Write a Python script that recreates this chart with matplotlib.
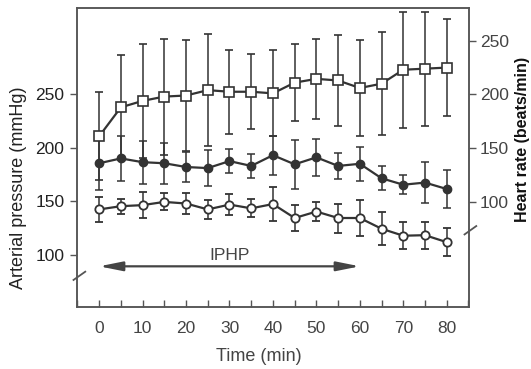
import matplotlib
matplotlib.use("Agg")
import matplotlib.pyplot as plt
from matplotlib.ticker import MultipleLocator

plt.rcParams["font.family"] = ["Liberation Sans", "DejaVu Sans"]
plt.rcParams["font.size"] = 12.5

# ---------------------------------------------------------
# Data
# ---------------------------------------------------------

time_min = [0, 5, 10, 15, 20, 25, 30, 35, 40, 45, 50, 55, 60, 65, 70, 75, 80]

heart_rate = [161, 188, 194, 198, 199, 204, 202.5, 202.5, 201, 211, 214.5, 213,
              206, 210, 223, 224, 225]
heart_rate_err = [41, 49, 53, 54, 52, 52, 39, 35, 40, 36, 37, 42, 45, 48, 54, 53, 45]

pressure_high = [185.5, 190, 186.5, 185.5, 182, 181, 187.5, 183, 193, 184.5, 191,
                 183, 185, 171.5, 165.5, 167.5, 161.5]
pressure_high_err = [25, 21, 20, 19, 14, 17, 11, 11, 18, 23, 17, 12, 16, 11, 9, 19, 18]

pressure_low = [142.5, 145.5, 146.5, 149.5, 148, 142.5, 147, 143.5, 147.5, 134.5,
                140.5, 134.5, 134.5, 124.5, 118, 118.5, 112]
pressure_low_err = [12, 7, 12, 8, 10, 8.5, 10, 8.5, 16, 12.5, 8.5, 13.5, 17, 15.5,
                    12.5, 12.5, 13]

left_ticks = [100, 150, 200, 250]
right_ticks = [100, 150, 200, 250]
x_ticks = [0, 10, 20, 30, 40, 50, 60, 70, 80]

iphp_start, iphp_end = 0, 60

# ---------------------------------------------------------
# Plot
# ---------------------------------------------------------

ink = "#333333"
spine_col = "#555555"

fig = plt.figure(figsize=(5.31, 3.69), dpi=100)
ax = fig.add_axes([0.145, 0.168, 0.738, 0.81])
ax2 = ax.twinx()

ax.set_xlim(-5.1, 85.1)
ax.set_ylim(51.6, 330)
ax2.set_ylim(2, 280.4)

err_kw = dict(
    color=ink,
    ecolor=ink,
    elinewidth=1.1,
    capsize=3,
    capthick=1.1,
    linewidth=1.6,
)

ax.errorbar(time_min, pressure_low, yerr=pressure_low_err, marker="o",
            markersize=6, markerfacecolor="white", markeredgecolor=ink,
            markeredgewidth=1.3, zorder=3, **err_kw)
ax.errorbar(time_min, pressure_high, yerr=pressure_high_err, marker="o",
            markersize=6, markerfacecolor=ink, markeredgecolor=ink, zorder=3,
            **err_kw)
ax2.errorbar(time_min, heart_rate, yerr=heart_rate_err, marker="s",
             markersize=7, markerfacecolor="white", markeredgecolor=ink,
             markeredgewidth=1.2, zorder=3, **err_kw)

# IPHP arrow
ax.annotate("", xy=(iphp_start, 89.5), xytext=(iphp_end, 89.5),
            arrowprops=dict(arrowstyle="<|-|>,head_length=1.0,head_width=0.2",
                            color="#444444", lw=1.6, mutation_scale=14,
                            shrinkA=0, shrinkB=0))
ax.text((iphp_start + iphp_end) / 2, 99.5, "IPHP", ha="center", va="center",
        color="#444444", fontsize=12.5)

# axes styling
for a in (ax, ax2):
    for s in a.spines.values():
        s.set_color(spine_col)
        s.set_linewidth(1.1)

ax.set_yticks(left_ticks)
ax2.set_yticks(right_ticks)
ax.set_xticks(x_ticks)
ax.xaxis.set_minor_locator(MultipleLocator(5))

ax.tick_params(axis="y", direction="out", length=5, width=1, color=spine_col,
               pad=4, labelcolor="#222222")
ax2.tick_params(axis="y", direction="out", length=5, width=1, color=spine_col,
                pad=3, labelcolor="#444444")
ax.tick_params(axis="x", which="both", direction="in", length=5, width=1,
               color=spine_col, pad=10, labelcolor="#444444")

ax.set_ylabel("Arterial pressure (mmHg)", color="#222222", fontsize=13)
ax.yaxis.set_label_coords(-0.128, 0.40)
ax2.set_ylabel("Heart rate (beats/min)", color="#111111", fontsize=11.5,
               fontweight="bold")
ax2.yaxis.set_label_coords(1.117, 0.56)
ax.set_xlabel("Time (min)", color="#444444", fontsize=13)
ax.xaxis.set_label_coords(0.463, -0.138)

# axis break marks
ax.plot([-5.9, -3.2], [76.8, 84.5], color=spine_col, lw=1.3, clip_on=False,
        zorder=5)
ax2.plot([84.1, 86.8], [69.6, 77.4], color=spine_col, lw=1.3, clip_on=False,
         zorder=5)

fig.savefig("out.png", dpi=100)
